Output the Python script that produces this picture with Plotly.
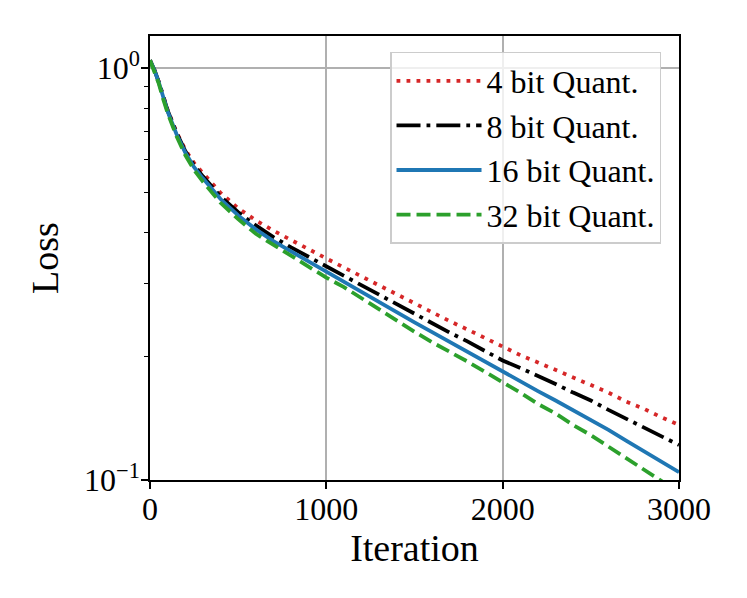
import plotly.graph_objects as go

iterations = [0, 25, 50, 75, 100, 150, 200, 250, 300, 400, 500, 600, 700, 800, 900,
              1000, 1100, 1200, 1300, 1400, 1500, 1600, 1700, 1800, 1900, 2000,
              2100, 2200, 2300, 2400, 2500, 2600, 2700, 2800, 2900, 3000]

loss_4bit = [1.045, 0.990, 0.926, 0.852, 0.792, 0.700, 0.634, 0.588, 0.555, 0.498, 0.457, 0.427,
             0.403, 0.382, 0.363, 0.345, 0.328, 0.312, 0.296, 0.281, 0.267, 0.255, 0.243,
             0.232, 0.221, 0.210, 0.201, 0.193, 0.185, 0.177, 0.170, 0.163, 0.155, 0.149,
             0.142, 0.136]

loss_8bit = [1.045, 0.990, 0.925, 0.850, 0.789, 0.697, 0.629, 0.580, 0.546, 0.488, 0.447, 0.415,
             0.389, 0.367, 0.348, 0.329, 0.312, 0.296, 0.281, 0.267, 0.253, 0.240, 0.228,
             0.217, 0.206, 0.195, 0.187, 0.179, 0.171, 0.163, 0.156, 0.148, 0.141, 0.134,
             0.128, 0.1216]

loss_16bit = [1.045, 0.989, 0.923, 0.847, 0.785, 0.692, 0.624, 0.575, 0.540, 0.481, 0.439, 0.406,
              0.380, 0.359, 0.339, 0.320, 0.303, 0.286, 0.270, 0.256, 0.2415, 0.2286, 0.2163,
              0.2042, 0.1932, 0.1828, 0.1734, 0.1644, 0.1560, 0.1479, 0.1403, 0.1324, 0.1247,
              0.1175, 0.1109, 0.1045]

loss_32bit = [1.045, 0.985, 0.917, 0.840, 0.778, 0.684, 0.615, 0.566, 0.530, 0.471, 0.430, 0.396,
              0.372, 0.350, 0.330, 0.310, 0.294, 0.276, 0.259, 0.244, 0.229, 0.216, 0.205,
              0.194, 0.183, 0.173, 0.163, 0.153, 0.145, 0.136, 0.1285, 0.1205, 0.113, 0.106,
              0.0995, 0.0933]

series_names = ["4 bit Quant.", "8 bit Quant.", "16 bit Quant.", "32 bit Quant."]
x_tick_vals = [0, 1000, 2000, 3000]
x_tick_text = ["0", "1000", "2000", "3000"]
y_tick_vals = [0.1, 1]
y_tick_text = ["10<sup>\u22121</sup>", "10<sup>0</sup>"]
y_minor_vals = [0.2, 0.3, 0.4, 0.5, 0.6, 0.7, 0.8, 0.9]

FONT = "Liberation Serif"
FS = 32
LW = 3.8
Y_RANGE = [-1, 0.078]

styles = [
    dict(color="#d62728", dash="3.8px,6.2px"),
    dict(color="#000000", dash="24px,6px,3.8px,6px"),
    dict(color="#1f77b4", dash="solid"),
    dict(color="#2ca02c", dash="14px,6px"),
]

fig = go.Figure()
for name, ys, st in zip(series_names, [loss_4bit, loss_8bit, loss_16bit, loss_32bit], styles):
    fig.add_trace(go.Scatter(x=iterations, y=ys, mode="lines", name=name,
                             line=dict(color=st["color"], dash=st["dash"], width=LW)))

# page body has an 8px margin, so the figure is drawn 8px in from the top-left
fig.update_layout(
    width=739, height=590,
    margin=dict(l=142, r=68, t=28, b=118),
    paper_bgcolor="white", plot_bgcolor="white",
    font=dict(family=FONT, size=FS, color="black"),
    showlegend=True,
    legend=dict(x=0.966, y=0.964, xanchor="right", yanchor="top",
                bgcolor="rgba(255,255,255,0.8)", bordercolor="#cccccc", borderwidth=1.5,
                font=dict(family=FONT, size=FS), itemwidth=85, tracegroupgap=0),
)
fig.update_xaxes(range=[0, 3000], tickvals=x_tick_vals, ticktext=x_tick_text,
                 showline=True, linecolor="black", linewidth=1.5, mirror=True,
                 ticks="outside", ticklen=7, tickwidth=1.5, tickcolor="black",
                 ticklabelstandoff=-7,
                 showgrid=True, gridcolor="#b0b0b0", gridwidth=1.5, zeroline=False,
                 title=dict(text="Iteration", standoff=0))
fig.update_yaxes(type="log", range=Y_RANGE, tickvals=y_tick_vals, ticktext=y_tick_text,
                 showline=True, linecolor="black", linewidth=1.5, mirror=True,
                 ticks="outside", ticklen=7, tickwidth=1.5, tickcolor="black",
                 ticklabelstandoff=-5,
                 showgrid=True, gridcolor="#b0b0b0", gridwidth=1.5, zeroline=False,
                 minor=dict(tickmode="array", tickvals=y_minor_vals, ticks="outside",
                            ticklen=4.5, tickwidth=1.3, tickcolor="black", showgrid=False),
                 title=dict(text="Loss", standoff=14))

fig.write_html("out.html")
